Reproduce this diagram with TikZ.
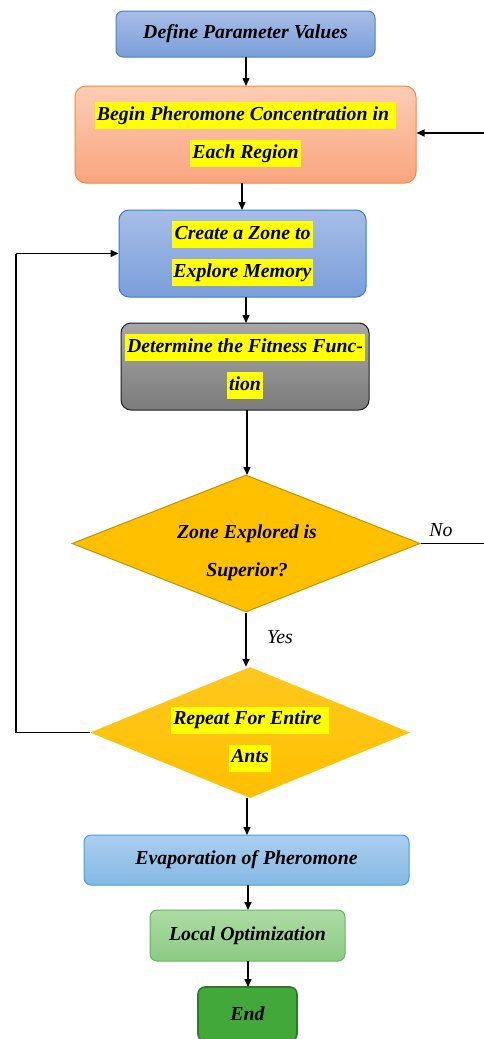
\documentclass[tikz,border=0pt]{standalone}
\usepackage{fontspec}
\setmainfont{Liberation Serif}
\usetikzlibrary{shapes.geometric,arrows.meta}
\definecolor{hly}{HTML}{FFFF00}
\definecolor{bAt}{HTML}{A7BDE7}\definecolor{bAb}{HTML}{7A9ED9}\definecolor{bAd}{HTML}{4F81BD}
\definecolor{oRt}{HTML}{FCCDB5}\definecolor{oRb}{HTML}{F9A57E}\definecolor{oRd}{HTML}{F7893A}
\definecolor{bBd}{HTML}{2F7ED8}
\definecolor{gYt}{HTML}{A8A8A8}\definecolor{gYb}{HTML}{7B7B7B}\definecolor{gYd}{HTML}{1F1F1F}
\definecolor{dmf}{HTML}{FFC000}\definecolor{dmd}{HTML}{C39200}
\definecolor{lBt}{HTML}{AACEEF}\definecolor{lBb}{HTML}{85B8E3}\definecolor{lBd}{HTML}{3FA2DC}
\definecolor{gNt}{HTML}{AEDBA6}\definecolor{gNb}{HTML}{8BCA82}\definecolor{gNd}{HTML}{5DB85A}
\definecolor{gDf}{HTML}{43A83A}\definecolor{gDd}{HTML}{2F7A2A}
\newcommand\hlt[1]{{\setlength\fboxsep{2pt}\colorbox{hly}{\strut #1}}}
\tikzset{
  txt/.style={font=\fontsize{19.8}{23}\selectfont\bfseries\itshape, align=center, inner sep=0pt},
  lbl/.style={font=\fontsize{19.8}{23}\selectfont\itshape, inner sep=0pt},
  boxA/.style={txt, rounded corners=7pt, line width=1pt},
  dia/.style={diamond, inner sep=0pt},
  arr/.style={line width=1.5pt, -{Triangle[length=8pt,width=7pt]}},
  lin/.style={line width=1.5pt},
}
\begin{document}
\begin{tikzpicture}[x=1pt,y=-1pt]
\fill[white] (0,0) rectangle (483,1039);
\useasboundingbox (0,0) rectangle (483,1039);

\node[boxA, draw=bAd, top color=bAt, bottom color=bAb, minimum width=259pt, minimum height=46pt] (b1) at (245.5,34) {\raisebox{-1.5pt}{Define Parameter Values}};
\node[boxA, rounded corners=11pt, draw=oRd, top color=oRt, bottom color=oRb, minimum width=341pt, minimum height=97pt] (b2) at (245.5,134.5) {\hlt{Begin Pheromone Concentration in\ }\\[10pt]\hlt{Each Region}};
\node[boxA, rounded corners=10pt, draw=bBd, top color=bAt, bottom color=bAb, minimum width=247pt, minimum height=87pt] (b3) at (242.5,253.5) {\hlt{\makebox[137pt]{Create a Zone to}}\\[10pt]\hlt{\makebox[137pt]{Explore Memory}}};
\node[boxA, rounded corners=10pt, draw=gYd, top color=gYt, bottom color=gYb, minimum width=248pt, minimum height=87pt] (b4) at (245,366.5) {\hlt{Determine the Fitness Func-}\\[10pt]\hlt{tion}};
\node[dia, aspect=2.54, draw=dmd, fill=dmf, line width=1pt, minimum width=348pt, minimum height=137pt] (d1) at (246,543.5) {};
\node[txt] (d1t) at (247,553) {\strut Zone Explored is\\[15pt]\strut Superior?};
\node[dia, aspect=2.44, top color=dmf!88!white, bottom color=dmf, minimum width=320pt, minimum height=131pt] (d2) at (250,732.5) {};
\node[txt] (d2t) at (250,739) {\hlt{Repeat For Entire\ }\\[10pt]\hlt{Ants}};
\node[boxA, draw=lBd, top color=lBt, bottom color=lBb, minimum width=325pt, minimum height=50pt] (b7) at (246.5,860) {Evaporation of Pheromone};
\node[boxA, draw=gNd, top color=gNt, bottom color=gNb, minimum width=195pt, minimum height=51pt] (b8) at (247.5,935.5) {Local Optimization};
\node[boxA, draw=gDd, fill=gDf, line width=1.6pt, minimum width=99pt, minimum height=54pt] (b9) at (247.5,1014) {End};

\coordinate (c1) at (246,57); \coordinate (c2) at (246,86);
\draw[arr] (c1) -- (c2);
\draw[arr] (242,183) -- (242,210);
\draw[arr] (246,297) -- (246,323);
\draw[arr] (247,410) -- (247,475);
\draw[arr] (d1.south) -- (d1.south |- d2.north);
\node[lbl] (yes) at (280,637) {Yes};
\coordinate (nr) at (486,543.5);
\coordinate (nt) at (486,133);
\draw[lin] (d1.east) -- (nr) -- (nt);
\draw[arr] (nt) -- (b2.east |- nt);
\node[lbl] (no) at (441,530) {No};
\coordinate (lb) at (16,732.5);
\coordinate (lt) at (16,253.5);
\draw[lin] (d2.west) -- (lb) -- (lt);
\draw[arr] (lt) -- (b3.west);
\draw[arr] (247,798) -- (247,835);
\draw[arr] (248,885) -- (248,910);
\draw[arr] (248,961) -- (248,987);
\end{tikzpicture}
\end{document}
